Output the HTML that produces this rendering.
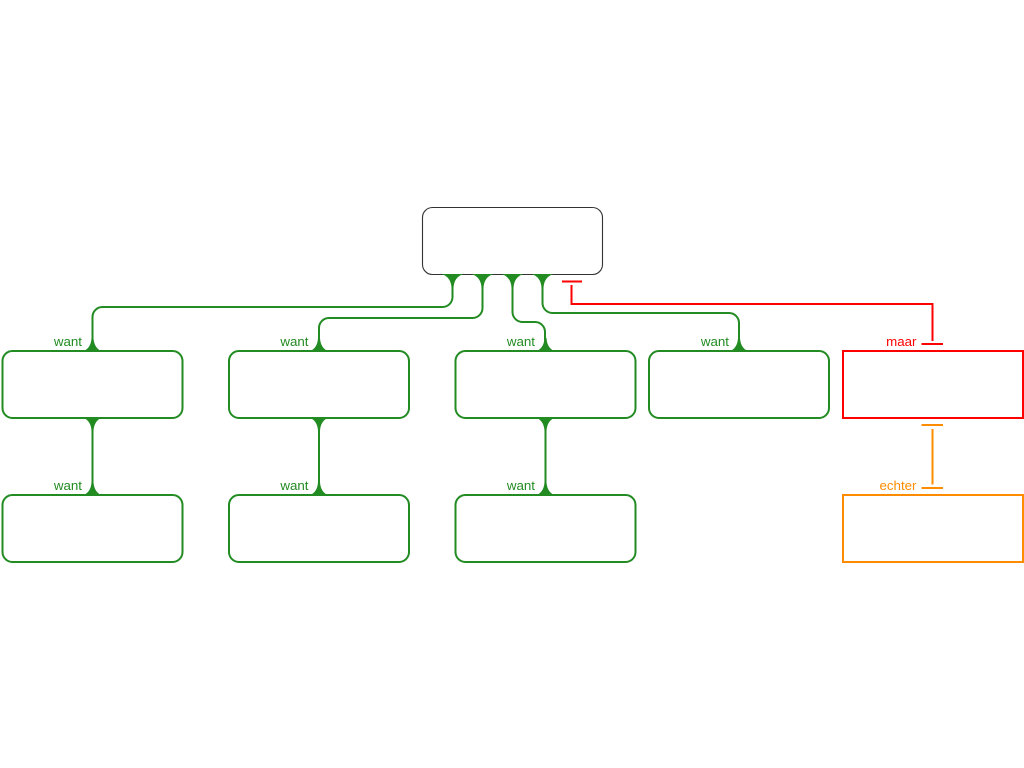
<!DOCTYPE html>
<html>
<head>
<meta charset="utf-8">
<style>
html,body{margin:0;padding:0;background:#fff;width:1024px;height:768px;overflow:hidden}
svg{display:block}
text{font-family:"Liberation Sans",sans-serif;font-size:13.33px;text-anchor:end}
</style>
</head>
<body>
<svg width="1024" height="768" viewBox="0 0 1024 768" xmlns="http://www.w3.org/2000/svg">
<rect x="422.5" y="207.5" width="180" height="67" rx="10" ry="10" fill="#fff" stroke="#333" stroke-width="1.1"/>

<g fill="none" stroke="#228b22" stroke-width="2">
<rect x="2.5" y="351" width="180" height="67" rx="10"/>
<rect x="229" y="351" width="180" height="67" rx="10"/>
<rect x="455.5" y="351" width="180" height="67" rx="10"/>
<rect x="649" y="351" width="180" height="67" rx="10"/>
<rect x="2.5" y="495" width="180" height="67" rx="10"/>
<rect x="229" y="495" width="180" height="67" rx="10"/>
<rect x="455.5" y="495" width="180" height="67" rx="10"/>
<path d="M452.5 275V297a10 10 0 0 1-10 10H102.500a10 10 0 0 0-10 10V351"/>
<path d="M482.500 275V308a10 10 0 0 1-10 10H329a10 10 0 0 0-10 10V351"/>
<path d="M512.500 275V312a10 10 0 0 0 10 10H535a10 10 0 0 1 10 10V351"/>
<path d="M542.500 275V303a10 10 0 0 0 10 10H729a10 10 0 0 1 10 10V351"/>
<path d="M92.500 418V495M319 418V495M545.500 418V495"/>
</g>

<g fill="#228b22">
<path d="M441.500 274H463.500Q454 277 453.500 288H451.500Q451 277 441.500 274Z"/>
<path d="M471.500 274H493.500Q484 277 483.500 288H481.500Q481 277 471.500 274Z"/>
<path d="M501.500 274H523.500Q514 277 513.500 288H511.500Q511 277 501.500 274Z"/>
<path d="M531.500 274H553.500Q544 277 543.500 288H541.500Q541 277 531.500 274Z"/>
<path d="M81.500 352H103.500Q94 349 93.500 338H91.500Q91 349 81.500 352Z"/>
<path d="M308 352H330Q320.500 349 320 338H318Q317.500 349 308 352Z"/>
<path d="M534.500 352H556.500Q547 349 546.500 338H544.500Q544 349 534.500 352Z"/>
<path d="M728 352H750Q740.500 349 740 338H738Q737.500 349 728 352Z"/>
<path d="M81.500 417H103.500Q94 420 93.500 431H91.500Q91 420 81.500 417Z"/>
<path d="M308 417H330Q320.500 420 320 431H318Q317.500 420 308 417Z"/>
<path d="M534.500 417H556.500Q547 420 546.500 431H544.500Q544 420 534.500 417Z"/>
<path d="M81.500 496H103.500Q94 493 93.500 482H91.500Q91 493 81.500 496Z"/>
<path d="M308 496H330Q320.500 493 320 482H318Q317.500 493 308 496Z"/>
<path d="M534.500 496H556.500Q547 493 546.500 482H544.500Q544 493 534.500 496Z"/>
</g>

<g fill="none" stroke="#ff0000" stroke-width="2">
<rect x="843" y="351" width="180" height="67"/>
<path d="M571.500 285V304H932.500V341"/>
<path d="M562 281.500H582M921.500 344H943"/>
</g>

<g fill="none" stroke="#ff8c00" stroke-width="2">
<rect x="843" y="495" width="180" height="67"/>
<path d="M932.500 429V484.500"/>
<path d="M921.500 425H943M921.500 488H943"/>
</g>

<g fill="#228b22">
<text x="82" y="346">want</text>
<text x="308.500" y="346">want</text>
<text x="535" y="346">want</text>
<text x="729" y="346">want</text>
<text x="82" y="490">want</text>
<text x="308.500" y="490">want</text>
<text x="535" y="490">want</text>
</g>
<text x="916.500" y="346" fill="#ff0000">maar</text>
<text x="916.500" y="490" fill="#ff8c00">echter</text>
</svg>
</body>
</html>
